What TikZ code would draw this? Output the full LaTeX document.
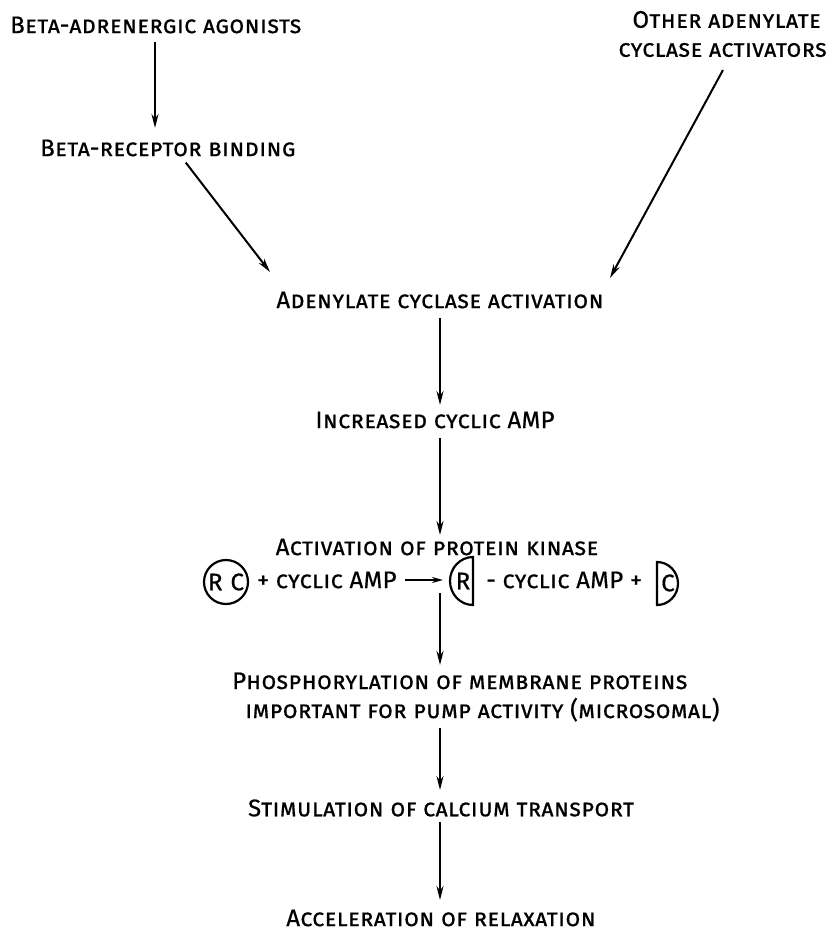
\documentclass[tikz,border=0pt]{standalone}
\usepackage{fontspec}
\setmainfont{Fira Sans}[LetterSpace=1.5,FakeBold=0.6]
\usetikzlibrary{arrows.meta}
\begin{document}
\begin{tikzpicture}[x=1pt,y=-1pt,
  lbl/.style={inner sep=0pt, font=\fontsize{24}{29}\selectfont\scshape},
  ltr/.style={inner sep=0pt, font=\fontsize{24}{29}\selectfont},
  arr/.style={line width=2pt, -{Stealth[length=14pt,width=7pt]}},
  shp/.style={line width=2.2pt},
]
\useasboundingbox (0,0) rectangle (837,935);
\node[lbl, anchor=west] (ba) at (10,25) {Beta-adrenergic agonists};
\node[lbl, anchor=west] (br) at (40,148) {Beta-receptor binding};
\node[lbl, align=left, anchor=east] (oa) at (827,34) {\hspace*{14pt}Other adenylate\\cyclase activators};
\node[lbl] (ac) at (440,300) {Adenylate cyclase activation};
\node[lbl] (ic) at (435,420) {Increased cyclic AMP};
\node[lbl] (ak) at (437,547) {Activation of protein kinase};
% equation row
\node[shp, draw, circle, minimum size=44pt, inner sep=0pt, ltr] (rc) at (226,582) {R\hspace{8pt}C};
\node[lbl, anchor=west] (p1) at (257,580) {+ cyclic AMP};
\coordinate (eqa) at (405,580);
\coordinate (eqb) at (443,580);
\draw[shp] (473,557) arc (270:90:23 and 24) -- cycle;
\node[ltr] (rr) at (463,581) {R};
\node[lbl, anchor=west] (p2) at (486,580) {- cyclic AMP +};
\draw[shp] (657,562) arc (270:450:21 and 21.5) -- cycle;
\node[ltr] (cc) at (668,583) {C};
\draw[line width=2pt, -{Stealth[length=11pt,width=6pt]}] (eqa) -- (eqb);
\node[lbl, align=left, anchor=west] (ph) at (232,697) {Phosphorylation of membrane proteins\\\hspace*{13pt}important for pump activity (microsomal)};
\node[lbl] (st) at (441,808) {Stimulation of calcium transport};
\node[lbl] (ae) at (441,918) {Acceleration of relaxation};
% connectors
\draw[arr] (ba.south -| 155,0) ++(0,8) -- (155,128);
\draw[arr] (br.south east) ++(-110,6) -- (270,272);
\draw[arr] (723,70) -- (610,278);
\draw[arr] (440,318) -- (440,405);
\draw[arr] (440,438) -- (440,535);
\draw[arr] (440,593) -- (440,665);
\draw[arr] (440,728) -- (440,790);
\draw[arr] (440,822) -- (440,900);
\end{tikzpicture}
\end{document}
